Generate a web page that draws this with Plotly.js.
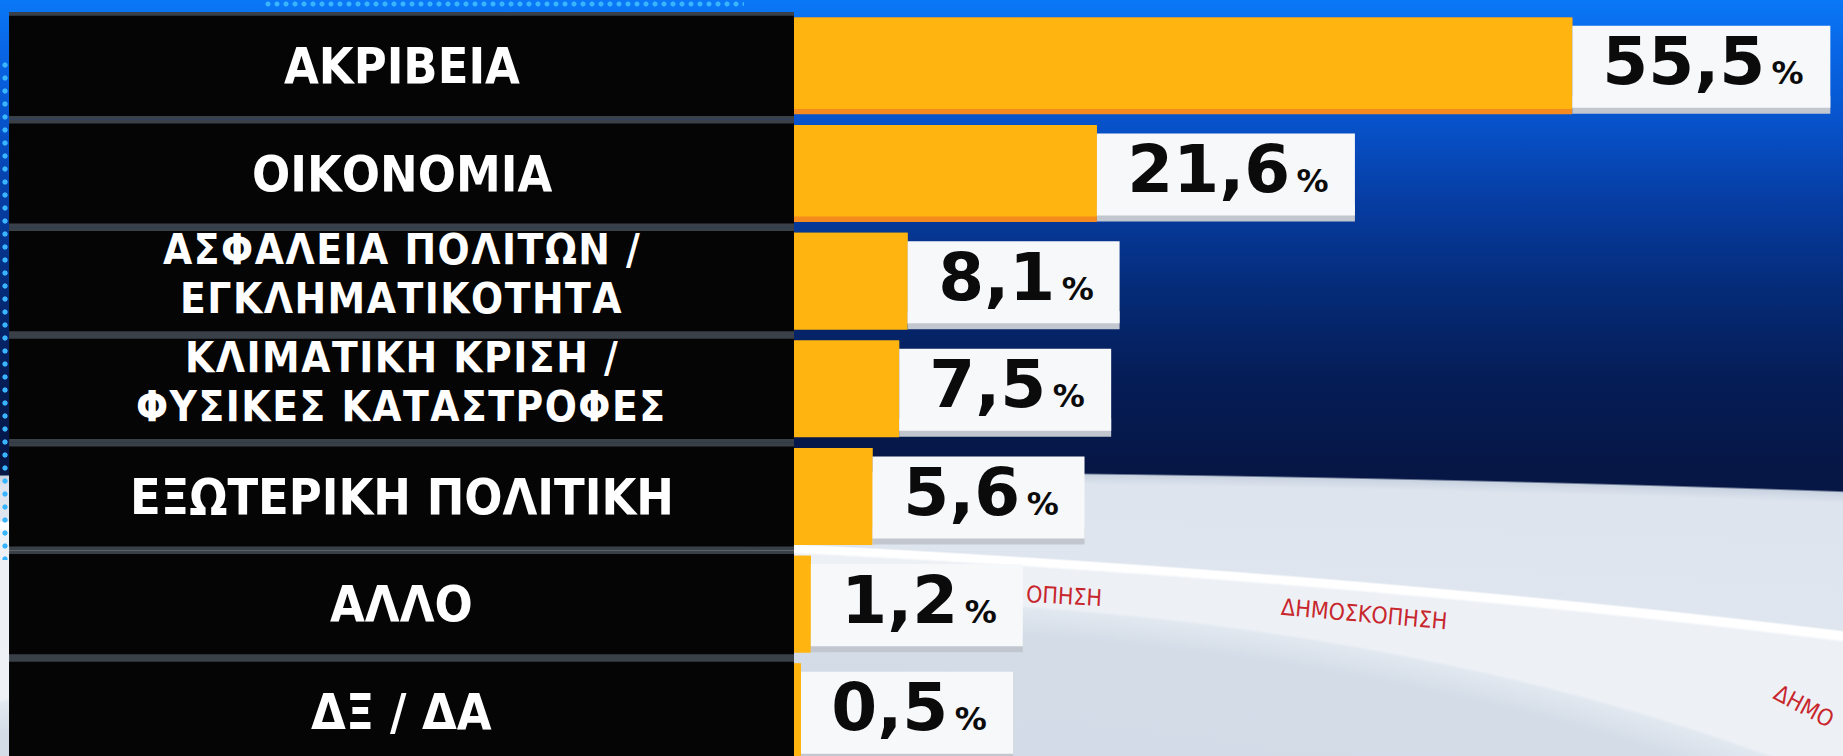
<!DOCTYPE html>
<html>
<head>
<meta charset="utf-8">
<script src="https://cdn.plot.ly/plotly-3.0.1.min.js"></script>
<style>
html,body{margin:0;padding:0;overflow:hidden;background:#061a4c;}
#wrap{position:relative;width:1843px;height:756px;overflow:hidden;
background:
 radial-gradient(ellipse 1600px 763px at 800px 1361px, #cdd7e3 0%, #d3dce7 96%, #e2e8f0 99.6%, rgba(226,232,240,0) 100%),
 radial-gradient(ellipse 3500px 603px at -173px 1123px, #eef2f7 0%, #edf1f6 98.3%, #ffffff 98.7%, #ffffff 99.7%, rgba(255,255,255,0) 100%),
 radial-gradient(ellipse 3000px 230px at 600px 700px, #e2e8f0 0%, #dde4ee 95%, #c9d3e0 99.2%, rgba(201,211,224,0) 100%),
 linear-gradient(180deg, #0a78f6 0px, #0866e6 50px, #0753cc 120px, #063da3 200px, #052b78 290px, #051d56 380px, #061645 470px, #061443 756px);
}
#dotsL{position:absolute;left:1px;top:60px;width:9px;height:500px;background:radial-gradient(circle at 4px 5px,#39b4ff 0,#39b4ff 2.2px,rgba(57,180,255,0) 3px) 0 0/9px 13px repeat-y;}
#dotsT{position:absolute;left:264px;top:0;width:480px;height:10px;background:radial-gradient(circle at 4px 4px,#39b4ff 0,#39b4ff 2px,rgba(57,180,255,0) 3px) 0 0/9px 10px repeat-x;}
#chart{position:absolute;left:0;top:0;width:1843px;height:756px;}
</style>
</head>
<body>
<div id="wrap">
<div id="dotsL"></div>
<div id="dotsT"></div>
<div id="chart"></div>
</div>
<script>
// ---- data ----
const categories = [
  "ΑΚΡΙΒΕΙΑ",
  "ΟΙΚΟΝΟΜΙΑ",
  "ΑΣΦΑΛΕΙΑ ΠΟΛΙΤΩΝ /<br>ΕΓΚΛΗΜΑΤΙΚΟΤΗΤΑ",
  "ΚΛΙΜΑΤΙΚΗ ΚΡΙΣΗ /<br>ΦΥΣΙΚΕΣ ΚΑΤΑΣΤΡΟΦΕΣ",
  "ΕΞΩΤΕΡΙΚΗ ΠΟΛΙΤΙΚΗ",
  "ΑΛΛΟ",
  "ΔΞ / ΔΑ"
];
const values = [55.5, 21.6, 8.1, 7.5, 5.6, 1.2, 0.5];
const valueLabels = values.map(v => v.toFixed(1).replace('.', ','));
const panelFill = categories.map(() => 1);
const watermark = "ΔΗΜΟΣΚΟΠΗΣΗ";

// ---- styles ----
const BAR = '#ffb40f';
const BAR_EDGE = values.map((v, i) => i < 2 ? '#f58b1f' : BAR);
const LABEL_FONT = 'DejaVu Sans Condensed, DejaVu Sans';
const NUM_FONT = 'DejaVu Sans';
const RED = '#c8262d';

const traces = [
  {type:'bar', orientation:'h', xaxis:'x2', yaxis:'y', y:categories, x:panelFill,
   width:1, marker:{color:'#3a4048', line:{width:0}}, hoverinfo:'skip'},
  {type:'bar', orientation:'h', xaxis:'x2', yaxis:'y', y:categories, x:panelFill,
   width:0.93, marker:{color:'#050505', line:{width:0}}, hoverinfo:'skip'},
  {type:'bar', orientation:'h', xaxis:'x', yaxis:'y', y:categories, x:values,
   width:0.9, offset:-0.45, marker:{color:BAR_EDGE, line:{width:0}}, hoverinfo:'skip'},
  {type:'bar', orientation:'h', xaxis:'x', yaxis:'y', y:categories, x:values,
   width:0.85, offset:-0.45, marker:{color:BAR, line:{width:0}}, hoverinfo:'skip'}
];

const shapes = [];
const annotations = [];
// decorative watermark texts on the stage ring
annotations.push({xref:'paper', yref:'paper', x:0.5773, y:0.2151, xanchor:'center', yanchor:'middle',
  text:watermark.slice(6), textangle:3, showarrow:false, font:{family:LABEL_FONT, size:23, color:RED}});
annotations.push({xref:'paper', yref:'paper', x:0.7401, y:0.1909, xanchor:'center', yanchor:'middle',
  text:watermark, textangle:5, showarrow:false, font:{family:LABEL_FONT, size:23, color:RED}});
annotations.push({xref:'paper', yref:'paper', x:0.9788, y:0.0672, xanchor:'center', yanchor:'middle',
  text:watermark.slice(0, 4), textangle:28, showarrow:false, font:{family:LABEL_FONT, size:23, color:RED}});

categories.forEach((c, i) => {
  const lines = c.split('<br>');
  const multi = lines.length > 1;
  const pitch = 49;
  lines.forEach((ln, j) => {
    annotations.push({xref:'x2', yref:'y', x:0.5, y:c, showarrow:false,
      text: multi ? '<span style="letter-spacing:1.5px">' + ln + '</span>' : ln,
      yshift:((lines.length - 1) / 2 - j) * pitch + (multi ? 7 : 0),
      font:{family:LABEL_FONT, size:multi ? 42 : 50, color:'#ffffff', weight:'bold'}});
  });
  const w = valueLabels[i].length > 3 ? 258 : 212;
  // value box shadow + box
  shapes.push({type:'rect', layer:'above', xref:'x', yref:'y',
    xsizemode:'pixel', xanchor:values[i], x0:0, x1:w,
    ysizemode:'pixel', yanchor:c, y0:-48, y1:-30,
    fillcolor:'#c2c7cf', line:{width:0}});
  shapes.push({type:'rect', layer:'above', xref:'x', yref:'y',
    xsizemode:'pixel', xanchor:values[i], x0:0, x1:w,
    ysizemode:'pixel', yanchor:c, y0:-42, y1:40,
    fillcolor:'#f7f8fa', line:{width:0}});
  const txt = valueLabels[i] + '<span style="font-size:32px">\u2009%</span>';
  annotations.push({xref:'x', yref:'y', x:values[i], y:c, xanchor:'left', yanchor:'middle',
    width:w, align:'center', yshift:4,
    text:txt, showarrow:false, font:{family:NUM_FONT, size:66, color:'#0b0b0b', weight:'bold'}});
});

const layout = {
  width:1843, height:756,
  margin:{l:0, r:0, t:12, b:0},
  paper_bgcolor:'rgba(0,0,0,0)', plot_bgcolor:'rgba(0,0,0,0)',
  barmode:'overlay', showlegend:false,
  font:{family:NUM_FONT},
  xaxis:{domain:[794/1843, 1], range:[0, 74.8], visible:false, anchor:'y'},
  xaxis2:{domain:[0, 794/1843], range:[-0.0116, 1], visible:false, anchor:'y'},
  yaxis:{type:'category', categoryorder:'array', categoryarray:categories,
         range:[6.41, -0.5], visible:false},
  shapes:shapes,
  annotations:annotations
};

Plotly.newPlot('chart', traces, layout, {staticPlot:true, displayModeBar:false});
</script>
</body>
</html>
